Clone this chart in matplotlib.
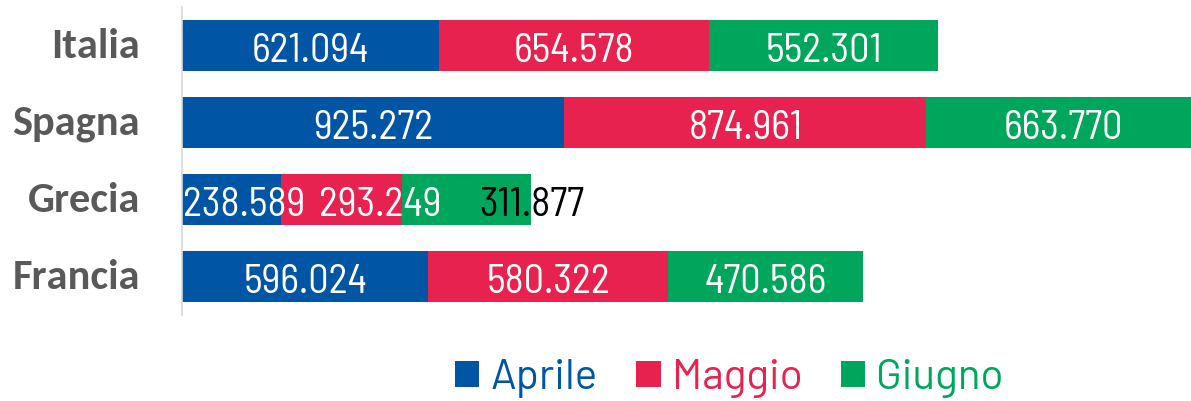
import matplotlib
matplotlib.use("Agg")
import matplotlib.pyplot as plt
import matplotlib.transforms as mtransforms
import numpy as np

# Data
countries = ["Italia", "Spagna", "Grecia", "Francia"]
months = ["Aprile", "Maggio", "Giugno"]
aprile = [621094, 925272, 238589, 596024]
maggio = [654578, 874961, 293249, 580322]
giugno = [552301, 663770, 311877, 470586]
series = [aprile, maggio, giugno]

colors = ["#0055A4", "#E8224F", "#00A65B"]
label_font = "Barlow Semi Condensed"
legend_font = "Barlow"
cat_font = "Carlito"


def fmt(v):
    return f"{v:,}".replace(",", ".")


W, H = 1191, 401
fig = plt.figure(figsize=(W / 100, H / 100), dpi=100)
ax = fig.add_axes([182 / W, (H - 315) / H, (W - 182) / W, 308 / H])

y = np.arange(len(countries))
left = np.zeros(len(countries))
containers = []
for vals, col, name in zip(series, colors, months):
    bc = ax.barh(y, vals, left=left, height=0.662, color=col, label=name,
                 edgecolor="none")
    containers.append(bc)
    left = left + np.array(vals)

ax.set_xlim(0, 2441000)
ax.set_ylim(3.5, -0.5)

# value labels: centred in each segment, a few nudged sideways for the short bar
nudges_px = {(2, 0): 12.5, (2, 1): 39, (2, 2): 65.5}
text_colors = {(2, 2): "black"}
px = 72 / 100  # points per pixel
starts = np.zeros(len(countries))
for s, vals in enumerate(series):
    for i, v in enumerate(vals):
        cx = starts[i] + v / 2
        dx = nudges_px.get((i, s), 0) * px
        ax.annotate(fmt(v), xy=(cx, i), xytext=(dx, -16.8 * px),
                    textcoords="offset points", ha="center", va="baseline",
                    fontsize=29, family=label_font,
                    color=text_colors.get((i, s), "white"),
                    annotation_clip=False)
    starts = starts + np.array(vals)

# axes styling
ax.set_yticks(y)
ax.set_yticklabels(countries, fontsize=30.5, fontweight="bold", family=cat_font,
                   color="#595959")
ax.tick_params(axis="y", length=0, pad=42 * px)
shift = mtransforms.ScaledTranslation(0, -12.3 / 100, fig.dpi_scale_trans)
for lab in ax.get_yticklabels():
    lab.set_va("baseline")
    lab.set_transform(lab.get_transform() + shift)
ax.set_xticks([])
for side in ("top", "right", "bottom"):
    ax.spines[side].set_visible(False)
ax.spines["left"].set_color("#D9D9D9")
ax.spines["left"].set_linewidth(1.2)

leg = fig.legend(handles=containers, labels=months, loc="center",
                 bbox_to_anchor=(729.5 / W, 1 - 378 / H), ncol=3,
                 frameon=False, borderpad=0, borderaxespad=0,
                 handlelength=0.57, handleheight=0.57, handletextpad=0.26,
                 columnspacing=0.92, labelcolor=colors,
                 prop={"family": legend_font, "size": 30.4})

fig.savefig("out.png", dpi=100)
